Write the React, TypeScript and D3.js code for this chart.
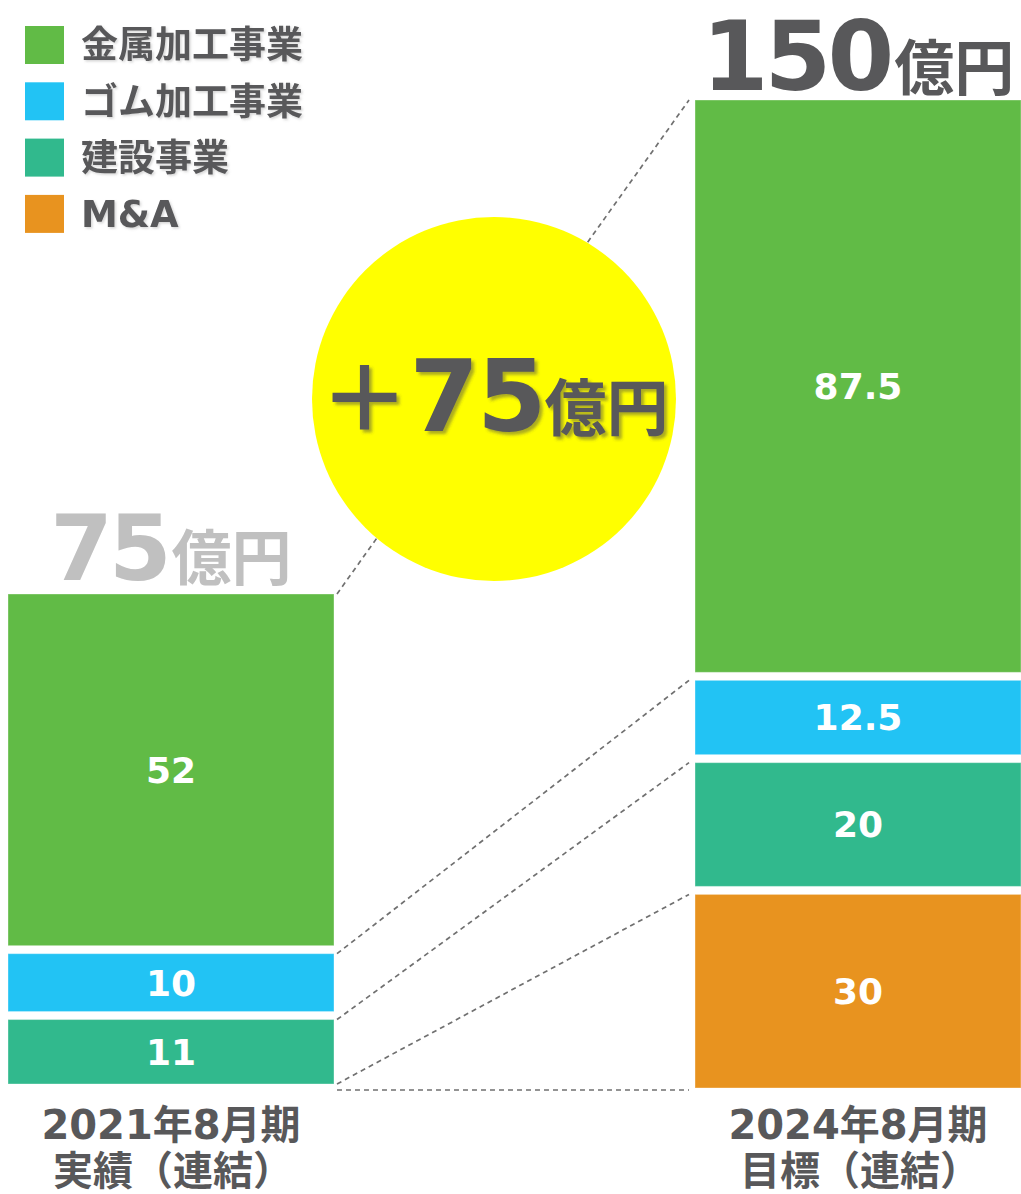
import * as d3 from 'd3';

// periods (x categories)
const periods = ['2021年8月期', '2024年8月期'];
const periodSub = ['実績（連結）', '目標（連結）'];
// headline totals per period (億円)
const totals = [75, 150];
// business segments, stacked bottom -> top in reverse of legend order
const segments = ['金属加工事業', 'ゴム加工事業', '建設事業', 'M&A'];
const segColors = ['#61bb46', '#22c3f4', '#31b98d', '#e8931f'];
const values2021 = [52, 10, 11, 0];
const values2024 = [87.5, 12.5, 20, 30];
const seriesValues = [values2021, values2024];

const W = 1021;
const H = 1194;
const GAP = 8;
const TEXT = '#58585a';
const FONT = '"DejaVu Sans", "Noto Sans CJK JP", sans-serif';
const JP = '"Noto Sans CJK JP", sans-serif';

export default function App() {
  const x = d3.scaleBand<string>().domain(periods).range([8, 1021]).paddingInner(0.5255);
  const y = d3.scaleLinear().domain([0, 150]).range([1088, 100]);
  const bw = x.bandwidth();

  // stack from bottom: M&A, 建設, ゴム, 金属 (top segment reaches the headline total)
  const stacks = seriesValues.map((vals, pi) => {
    const order = [3, 2, 1, 0];
    let acc = 0;
    return order.map((si, k) => {
      const lo = acc;
      const hi = k === order.length - 1 ? totals[pi] : acc + vals[si];
      acc = hi;
      return { si, lo, hi, v: vals[si], bottom: k === 0, top: k === order.length - 1 };
    });
  });

  // y of each segment's top edge (rect top), per period
  const topEdge = (pi: number, si: number) => {
    const s = stacks[pi].find((d) => d.si === si)!;
    if (s.hi === s.lo && !s.top) return y(s.hi) - 4;
    return y(s.hi) + (s.top ? 0 : GAP / 2);
  };

  const xl = x(periods[0])! + bw + 3;
  const xr = x(periods[1])! - 6;

  return (
    <svg
      width={W}
      height={H}
      style={{ position: 'absolute', left: 0, top: 0, display: 'block', background: '#fff' }}
    >
      <defs>
        <filter id="sh" x="-10%" y="-10%" width="130%" height="140%">
          <feDropShadow dx="3" dy="3" stdDeviation="1.5" floodColor="#444" floodOpacity="0.45" />
        </filter>
        <filter id="sh2" x="-10%" y="-10%" width="130%" height="140%">
          <feDropShadow dx="1.5" dy="1.5" stdDeviation="1" floodColor="#888" floodOpacity="0.35" />
        </filter>
      </defs>

      {/* connector lines */}
      <g stroke="#707070" strokeWidth={1.7} strokeDasharray="5 4" fill="none">
        {segments.map((s, si) => (
          <line key={s} x1={xl} y1={topEdge(0, si)} x2={xr} y2={topEdge(1, si)} />
        ))}
        <line x1={xl} y1={y(0) + 2} x2={xr} y2={y(0) + 2} />
      </g>

      {/* stacked bars */}
      {stacks.map((st, pi) => (
        <g key={periods[pi]}>
          {st
            .filter((d) => d.hi > d.lo)
            .map((d) => {
              const y0 = y(d.hi) + (d.top ? 0 : GAP / 2);
              const y1 = y(d.lo) - (d.bottom ? 0 : GAP / 2);
              return (
                <g key={d.si}>
                  <rect
                    x={x(periods[pi])}
                    y={y0}
                    width={bw}
                    height={y1 - y0}
                    fill={segColors[d.si]}
                    stroke="#ffffff"
                    strokeOpacity={0.35}
                  />
                  <text
                    x={x(periods[pi])! + bw / 2}
                    y={(y0 + y1) / 2}
                    dy="0.36em"
                    textAnchor="middle"
                    fill="#fff"
                    fontFamily={FONT}
                    fontWeight="bold"
                    fontSize={36}
                  >
                    {d.v}
                  </text>
                </g>
              );
            })}
        </g>
      ))}

      {/* headline totals */}
      {totals.map((t, pi) => (
        <text
          key={t}
          x={x(periods[pi])! + bw / 2}
          y={pi === 0 ? y(t) - 14 : 90}
          textAnchor="middle"
          fill={pi === 0 ? '#c0c0c0' : TEXT}
          fontFamily={FONT}
          fontWeight="bold"
        >
          <tspan fontSize={pi === 0 ? 90 : 96} letterSpacing={-4}>{t}</tspan>
          <tspan fontSize={60} fontFamily={JP} dx={4}>億円</tspan>
        </text>
      ))}

      {/* difference bubble */}
      <circle cx={494} cy={399} r={182} fill="#ffff00" />
      <text x={494} y={431} textAnchor="middle" fill={TEXT} fontWeight="bold" filter="url(#sh)">
        <tspan fontFamily={JP} fontSize={90}>＋</tspan>
        <tspan fontFamily={FONT} fontSize={100} letterSpacing={-2}>{totals[1] - totals[0]}</tspan>
        <tspan fontFamily={JP} fontSize={62}>億円</tspan>
      </text>

      {/* period labels */}
      {periods.map((p, pi) => (
        <g key={p} fill={TEXT} fontFamily={FONT} fontWeight="bold" fontSize={40} textAnchor="middle">
          <text x={x(p)! + bw / 2} y={1139}>{p}</text>
          <text x={x(p)! + bw / 2 + 2} y={1185}>{periodSub[pi]}</text>
        </g>
      ))}

      {/* legend */}
      {segments.map((s, si) => (
        <g key={s} transform={`translate(25,${26 + si * 56.3})`}>
          <rect width={39} height={38} fill={segColors[si]} />
          <text
            x={56}
            y={19}
            dy="0.36em"
            fill={TEXT}
            fontFamily={FONT}
            fontWeight="bold"
            fontSize={37}
            filter="url(#sh2)"
          >
            {s}
          </text>
        </g>
      ))}
    </svg>
  );
}
